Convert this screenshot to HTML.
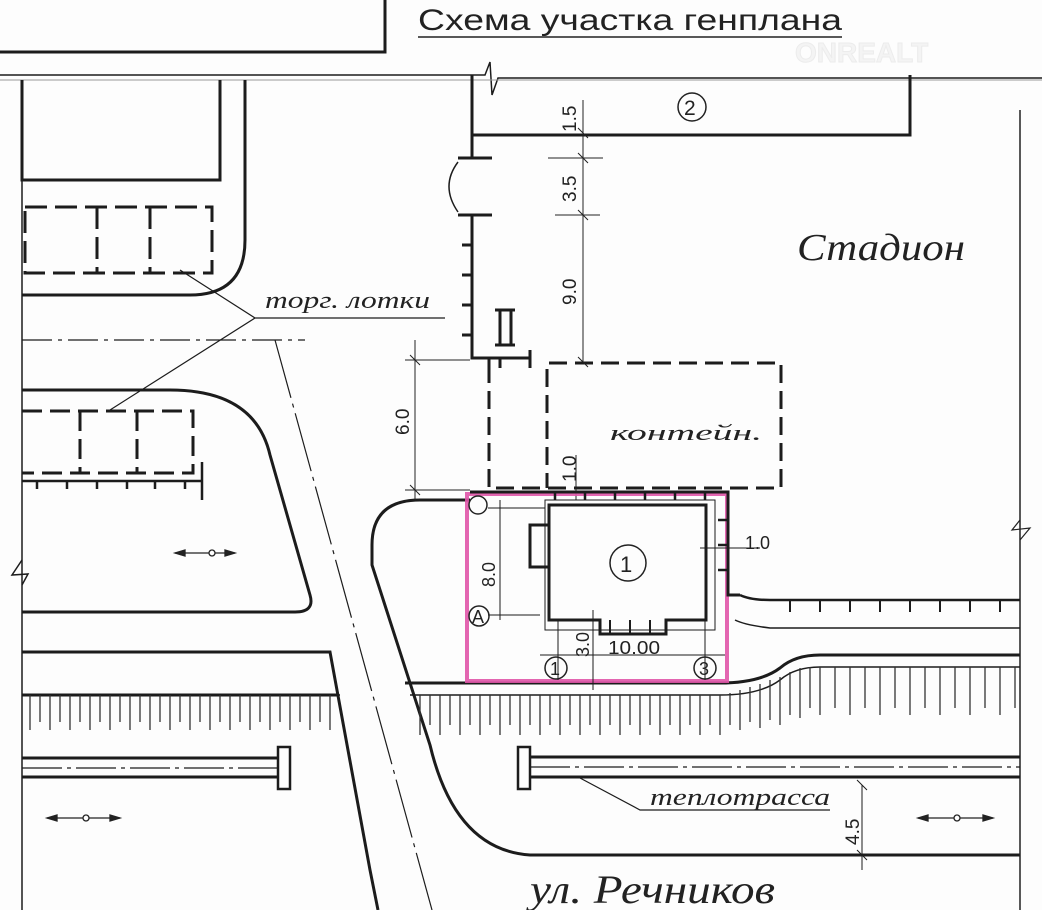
<!DOCTYPE html>
<html><head><meta charset="utf-8"><style>
html,body{margin:0;padding:0;background:#fff;width:1042px;height:910px;overflow:hidden}
svg{display:block}
.t{font-family:"Liberation Serif","DejaVu Serif",serif;font-style:italic;fill:#222}
.s{font-family:"Liberation Sans","DejaVu Sans",sans-serif;fill:#222}
</style></head><body>
<svg width="1042" height="910" viewBox="0 0 1042 910" xmlns="http://www.w3.org/2000/svg">
<rect width="1042" height="910" fill="#fdfdfd"/>
<g fill="none" stroke="#1c1c1c" stroke-width="3">
<path d="M0 52 H385 V0"/>
<path d="M0 75 H485 L490 62 L492 95 L498 78 H1042" stroke-width="1.5"/>
<path d="M0 80 H1042" stroke-width="1" stroke="#999"/>
<path d="M22 80 V180 H220 V80" />
<path d="M245 80 V240 Q245 295 190 295 H22"/>
<path d="M22 80 V910" stroke-width="1.5"/>
<path d="M22 560 L12 575 L28 574 L22 585" stroke-width="1.5"/>
<g stroke-dasharray="22,8" stroke-width="3">
<path d="M25 207 H212 V273 H25 Z"/>
<path d="M97 207 V273 M150 207 V273"/>
</g>
<path d="M180 270 L255 318 L110 410 M255 318 H445" stroke-width="1.2"/>
<path d="M22 340 H305" stroke-width="1.2" stroke-dasharray="30,6,4,6"/>
<path d="M22 390 H170 Q255 390 270 455 L310 595 Q315 612 295 612 H22"/>
<g stroke-dasharray="20,8">
<path d="M22 411 H193 V473 H22"/>
<path d="M80 411 V473 M137 411 V473"/>
</g>
<path d="M22 481 H202 M202 462 V500 M37 481 V489 M67 481 V489 M97 481 V489 M127 481 V489 M155 481 V489 M185 481 V489" stroke-width="2.5"/>
<path d="M22 652 H330 L370 870 L378 910"/>
<path d="M275 340 L432 910" stroke-width="1.2" stroke-dasharray="60,6,4,6"/>
<path d="M470 500 H420 Q372 500 372 545 V565 L430 745 Q455 850 530 855 H1020"/>
<path d="M22 695 H338 M405 683 H720 Q760 683 780 668 Q795 655 820 655 H1020" />
<path d="M410 695 H720 Q760 695 780 680 Q795 667 820 667 H1020" stroke-width="1.5"/>
<path d="M22 695 H340" stroke-width="1.5"/>
</g>
<g stroke="#333" stroke-width="1.3">
<path d="M30 695 V730 M40 695 V722 M50 695 V730 M60 695 V722 M70 695 V730 M80 695 V722 M90 695 V730 M100 695 V722 M110 695 V730 M120 695 V722 M130 695 V730 M140 695 V722 M150 695 V730 M160 695 V722 M170 695 V730 M180 695 V722 M190 695 V730 M200 695 V722 M210 695 V730 M220 695 V722 M230 695 V730 M240 695 V722 M250 695 V730 M260 695 V722 M270 695 V730 M280 695 V722 M290 695 V730 M300 695 V722 M310 695 V730 M320 695 V722 M330 695 V730"/>
<path d="M420 695 V735 M430 695 V725 M440 695 V735 M450 695 V725 M460 695 V735 M470 695 V725 M480 695 V735 M490 695 V725 M500 695 V735 M510 695 V725 M520 695 V735 M530 695 V725 M540 695 V735 M550 695 V725 M560 695 V735 M570 695 V725 M580 695 V735 M590 695 V725 M600 695 V735 M610 695 V725 M620 695 V735 M630 695 V725 M640 695 V735 M650 695 V725 M660 695 V735 M670 695 V725 M680 695 V735 M690 695 V725 M700 695 V735 M710 695 V725 M720 695 V735 M730 693 V725 M740 690 V730 M750 687 V722 M760 684 V728 M770 680 V720 M780 677 V725 M790 672 V715 M800 668 V718 M810 667 V708 M820 667 V715 M835 667 V708 M850 667 V715 M865 667 V708 M880 667 V715 M895 667 V708 M910 667 V715 M925 667 V708 M940 667 V715 M955 667 V708 M970 667 V715 M985 667 V708 M1000 667 V715 M1015 667 V708"/>
</g>
<path d="M1020 110 V910" stroke="#222" stroke-width="1.5" fill="none"/>
<path d="M1020 520 L1012 530 L1030 528 L1020 540" stroke="#222" stroke-width="1.2" fill="none"/>
<g fill="none" stroke="#1c1c1c" stroke-width="3">
<path d="M472 75 V158 M472 215 V358 H530 M530 350 V368"/>
<path d="M458 158 H492 M458 215 H492"/>
<path d="M472 135 H910 V75"/>
<path d="M458 162 Q440 186 458 212" stroke-width="1.5"/>
<path d="M462 245 H472 M462 275 H472 M462 305 H472 M462 335 H472"/>
<path d="M495 310 H515 M495 345 H515 M500 310 V345 M511 310 V345"/>
<path d="M489 365 V488 H781 V363 H547 V488" stroke-dasharray="18,8"/>
<path d="M489 358 V370 M500 358 V368"/>
</g>
<circle cx="692" cy="107" r="14" fill="none" stroke="#222" stroke-width="1.5"/>
<text x="684" y="115" class="s" font-size="21">2</text>
<g stroke="#222" stroke-width="1" fill="none">
<path d="M583 100 V362 M548 158 H603 M555 215 H600 M578 128 L588 138 M578 153 L588 163 M578 210 L588 220 M578 357 L588 367"/>
<path d="M415 340 V500 M405 360 H470 M405 490 H470 M410 355 L420 365 M410 485 L420 495"/>
<path d="M576 455 V500"/>
</g>
<g class="s" font-size="19">
<text transform="translate(576,132) rotate(-90)">1.5</text>
<text transform="translate(576,202) rotate(-90)">3.5</text>
<text transform="translate(576,305) rotate(-90)">9.0</text>
<text transform="translate(409,435) rotate(-90)">6.0</text>
<text transform="translate(576,482) rotate(-90)">1.0</text>
</g>
<text x="610" y="440" class="t" font-size="22" textLength="152" lengthAdjust="spacingAndGlyphs">контейн.</text>
<text x="797" y="260" class="t" font-size="38" textLength="168" lengthAdjust="spacingAndGlyphs">Стадион</text>
<text x="265" y="308" class="t" font-size="24" textLength="165" lengthAdjust="spacingAndGlyphs">торг. лотки</text>
<rect x="467" y="494" width="260" height="187" fill="none" stroke="#e055a8" stroke-width="4" opacity="0.9"/>
<g fill="none" stroke="#1c1c1c">
<path d="M470 492 H728 V595 H740" stroke-width="3"/>
<path d="M555 492 V500 M585 492 V500 M615 492 V500 M645 492 V500 M675 492 V500 M705 492 V500 M718 520 H728 M718 545 H728 M718 570 H728" stroke-width="2.5"/>
<path d="M549 505 H706 V620 H666 V634 H600 V620 H549 Z M549 525 H530 V567 H549" stroke-width="3"/>
<path d="M545 500 H715 V630 H545 Z" stroke-width="1"/>
<path d="M488 508 H545 M500 500 V620 M488 615 H540 M540 655 H725 M558 620 V680 M705 540 V680 M593 610 V690 M700 548 H760" stroke-width="1"/>
<path d="M610 620 V634 M630 620 V634 M650 620 V634" stroke-width="2"/>
</g>
<circle cx="628" cy="563" r="18" fill="none" stroke="#222" stroke-width="1.5"/>
<text x="620" y="572" class="s" font-size="22">1</text>
<g fill="none" stroke="#222" stroke-width="1.5">
<circle cx="478" cy="505" r="9"/><circle cx="479" cy="616" r="10"/><circle cx="556" cy="668" r="11"/><circle cx="705" cy="668" r="11"/>
</g>
<g class="s" font-size="18">
<text x="472" y="623">A</text><text x="550" y="675">1</text><text x="699" y="675">3</text>
<text transform="translate(495,587) rotate(-90)">8.0</text>
<text transform="translate(589,657) rotate(-90)">3.0</text>
<text x="608" y="654" textLength="52" lengthAdjust="spacingAndGlyphs">10.00</text>
<text x="745" y="549">1.0</text>
</g>
<g fill="none" stroke="#1c1c1c">
<path d="M740 595 Q750 600 770 600 H1020" stroke-width="2.5"/>
<path d="M735 620 Q745 625 770 628 H1020" stroke-width="1.5"/>
<path d="M790 600 V612 M820 600 V612 M850 600 V612 M880 600 V612 M910 600 V612 M940 600 V612 M970 600 V612 M1000 600 V612" stroke-width="2"/>
</g>
<g fill="none" stroke="#1c1c1c">
<path d="M22 758 H278 M22 777 H278 M530 757 H1020 M530 777 H1020" stroke-width="3"/>
<path d="M22 768 H278 M530 767 H1020" stroke-width="1.2" stroke-dasharray="40,5,4,5"/>
<rect x="278" y="747" width="12" height="42" stroke-width="2.5"/>
<rect x="518" y="747" width="12" height="42" stroke-width="2.5"/>
<path d="M580 778 L640 810 H830" stroke-width="1.2"/>
<path d="M862 785 V870 M857 780 L867 790 M857 850 L867 860" stroke-width="1"/>
</g>
<text x="650" y="805" class="t" font-size="24" textLength="180" lengthAdjust="spacingAndGlyphs">теплотрасса</text>
<text transform="translate(859,845) rotate(-90)" class="s" font-size="19">4.5</text>
<text x="530" y="903" class="t" font-size="40" textLength="245" lengthAdjust="spacingAndGlyphs">ул. Речников</text>
<g stroke="#222" stroke-width="1.3" fill="#222">
<path d="M175 553 H235 M47 818 H120 M918 818 H993"/>
<path d="M175 553 l10 -3 v6z M235 553 l-10 -3 v6z M47 818 l10 -3 v6z M120 818 l-10 -3 v6z M918 818 l10 -3 v6z M993 818 l-10 -3 v6z"/>
<circle cx="212" cy="553" r="3" fill="#fff"/><circle cx="86" cy="818" r="3" fill="#fff"/><circle cx="957" cy="818" r="3" fill="#fff"/>
</g>
<text x="418" y="30" class="s" font-size="30" textLength="424" lengthAdjust="spacingAndGlyphs">Схема участка генплана</text>
<path d="M418 37 H842" stroke="#222" stroke-width="1.5"/>
<text x="795" y="62" font-family="Liberation Sans, sans-serif" font-size="28" font-weight="bold" style="fill:#f4f4f4;stroke:#ececec;stroke-width:1">ONREALT</text>
</svg>
</body></html>
